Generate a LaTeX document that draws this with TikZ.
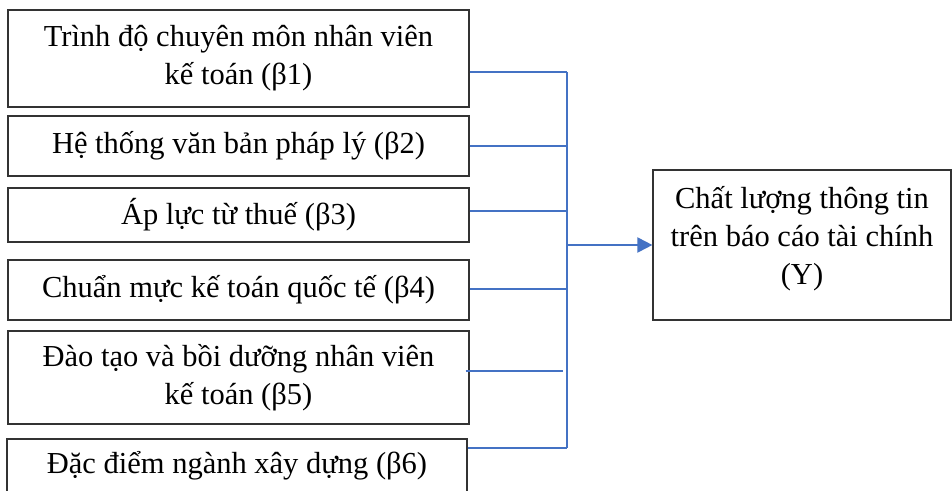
\documentclass[tikz,border=0pt]{standalone}
\usepackage{fontspec}
\setmainfont{Liberation Serif}
\usetikzlibrary{arrows.meta}
\definecolor{busblue}{HTML}{4472C4}
\definecolor{boxgray}{HTML}{333333}
\begin{document}
\begin{tikzpicture}[x=1pt,y=1pt,
  factortext/.style={inner sep=0pt,align=center,font=\fontsize{30.5}{38}\selectfont},
  factor/.style={factortext,draw=boxgray,line width=1.2pt},
  busline/.style={draw=busblue,line width=1.2pt},
  mainarrow/.style={draw=busblue,line width=2pt,-{Triangle[length=15pt,width=15pt]}}]
\clip (0,0) rectangle (952,-490);
\fill[white] (0,0) rectangle (952,-490);
\node[factor,minimum width=461pt,minimum height=97pt] (b1) at (238.5,-58.5)
  {Trình độ chuyên môn nhân viên\\kế toán (β1)};
\node[factor,minimum width=461pt,minimum height=60pt] (b2) at (238.5,-146)
  {Hệ thống văn bản pháp lý (β2)};
\node[factor,minimum width=461pt,minimum height=54pt] (b3) at (238.5,-215)
  {Áp lực từ thuế (β3)};
\node[factor,minimum width=461pt,minimum height=60pt] (b4) at (238.5,-290)
  {Chuẩn mực kế toán quốc tế (β4)};
\node[factor,minimum width=461pt,minimum height=93pt] (b5) at (238.5,-377.5)
  {Đào tạo và bồi dưỡng nhân viên\\kế toán (β5)};
\node[factor,minimum width=460pt,minimum height=53pt] (b6) at (237,-465.5)
  {Đặc điểm ngành xây dựng (β6)};
\node[factor,minimum width=298pt,minimum height=150pt] (y) at (802,-245) {};
\node[factortext] (ytext) at ([yshift=6pt]y.center)
  {Chất lượng thông tin\\trên báo cáo tài chính\\(Y)};
\coordinate (j1) at (567,-72);
\coordinate (j2) at (567,-146);
\coordinate (j3) at (567,-211);
\coordinate (j4) at (567,-289);
\coordinate (j5) at (563,-371);
\coordinate (j6) at (567,-448);
\coordinate (jm) at (567,-245);
\draw[busline] (b1.east |- j1) -- (j1);
\draw[busline] (b2.east |- j2) -- (j2);
\draw[busline] (b3.east |- j3) -- (j3);
\draw[busline] (b4.east |- j4) -- (j4);
\draw[busline] ([xshift=-4pt]b5.east |- j5) -- (j5);
\draw[busline] (b6.east |- j6) -- (j6);
\draw[busline] (j1) -- (j6);
\draw[mainarrow] (jm) -- (y.west |- jm);
\end{tikzpicture}
\end{document}
